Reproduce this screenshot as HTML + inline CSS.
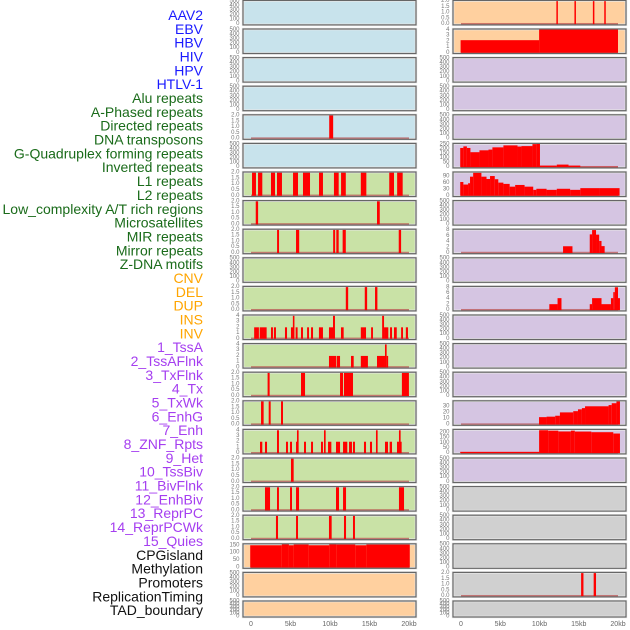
<!DOCTYPE html>
<html><head><meta charset="utf-8"><style>
html,body{margin:0;padding:0;background:#fff;width:630px;height:630px;overflow:hidden}
svg{display:block}
text{font-family:"Liberation Sans",sans-serif}
</style></head><body>
<svg id="chart" width="630" height="630"></svg>
<script>
const labels=["AAV2","EBV","HBV","HIV","HPV","HTLV-1","Alu repeats","A-Phased repeats","Directed repeats","DNA transposons","G-Quadruplex forming repeats","Inverted repeats","L1 repeats","L2 repeats","Low_complexity A/T rich regions","Microsatellites","MIR repeats","Mirror repeats","Z-DNA motifs","CNV","DEL","DUP","INS","INV","1_TssA","2_TssAFlnk","3_TxFlnk","4_Tx","5_TxWk","6_EnhG","7_Enh","8_ZNF_Rpts","9_Het","10_TssBiv","11_BivFlnk","12_EnhBiv","13_ReprPC","14_ReprPCWk","15_Quies","CPGisland","Methylation","Promoters","ReplicationTiming","TAD_boundary"];
const labelColors=["#1a1aff","#1a1aff","#1a1aff","#1a1aff","#1a1aff","#1a1aff","g","g","g","g","g","g","g","g","g","g","g","g","g","o","o","o","o","o","p","p","p","p","p","p","p","p","p","p","p","p","p","p","p","k","k","k","k","k"];
const leftBg=["b","b","b","b","b","b","g","g","g","g","g","g","g","g","g","g","g","g","g","o","o","o"];
const rightBg=["o","o","p","p","p","p","p","p","p","p","p","p","p","p","p","p","p","x","x","x","x","x"];
const leftTicks=[null,null,null,null,"T2",null,"T2","T2","T2",null,"T2","T4","T4","T2","T2","T4","T2","T2","T2","T150",null,null];
const rightTicks=["T2","T4",null,null,null,"T250","T90",null,"T8",null,"T8",null,null,null,"T30","T200",null,null,null,null,"T2",null];
// bars: [startKb, endKb, value]
const leftBars={
4:[[9.9,10.4,2]],
6:[[0.13,0.63,2],[0.89,1.43,2],[2.53,3.04,2],[3.29,3.92,2],[5.32,5.95,2],[6.58,7.47,2],[8.61,9.11,2],[10.5,11.1,2],[11.4,12.0,2],[13.9,14.6,2],[17.5,18.1,2],[18.5,19.2,2]],
7:[[0.6,0.9,2],[15.95,16.3,2]],
8:[[3.3,3.55,2],[5.7,6.1,2],[10.4,10.65,2],[10.8,11.1,2],[11.6,12.0,2],[18.7,19.0,2]],
10:[[12.0,12.3,2],[14.4,14.7,2],[15.7,16.0,2]],
11:[[0.4,1.0,2],[1.1,1.98,2],[2.53,2.78,2],[2.9,3.16,2],[4.3,4.56,2],[5.06,5.4,2],[5.3,5.5,4],[5.65,5.9,2],[6.33,6.58,2],[7.1,7.34,2],[7.6,7.85,2],[8.6,9.11,2],[9.87,10.38,2],[10.38,10.63,4],[11.39,11.73,2],[13.9,14.56,2],[15.2,15.44,2],[16.6,16.84,4],[16.84,17.38,2],[17.6,17.85,2],[18.1,18.45,2],[19.0,19.24,2],[19.6,19.87,2]],
12:[[9.87,10.76,2],[10.84,11.27,2],[12.66,13.0,2],[13.9,14.8,2],[15.95,16.96,2],[16.96,17.17,4],[17.17,17.34,2]],
13:[[2.1,2.36,2],[6.33,6.84,2],[11.27,11.65,2],[11.77,12.91,2],[19.1,19.99,2]],
14:[[1.27,1.6,2],[2.24,2.49,2],[3.8,4.05,2]],
15:[[1.14,1.43,2],[1.77,2.03,2],[3.29,3.54,4],[4.43,4.68,2],[4.94,5.19,2],[5.7,5.9,2],[5.82,6.03,4],[6.71,6.96,2],[7.6,7.85,2],[8.86,9.11,2],[9.24,9.45,4],[9.75,10.17,2],[10.76,11.27,2],[11.65,12.19,2],[12.41,12.78,2],[12.91,13.16,2],[14.3,14.56,2],[15.06,15.32,2],[15.82,16.03,4],[16.96,17.34,2],[17.55,17.85,2],[18.48,19.07,2],[18.73,18.94,4]],
16:[[5.06,5.4,2]],
17:[[1.77,2.41,2],[3.29,3.54,2],[4.94,5.19,2],[5.7,6.08,2],[10.76,11.14,2],[11.65,12.03,2],[18.73,19.37,2]],
18:[[3.16,3.42,2],[5.7,5.95,2],[9.87,10.21,2],[11.77,12.03,2],[12.91,13.16,2]],
19:[[-0.1,3.9,150],[3.9,4.8,157],[4.8,5.4,150],[5.4,7.3,155],[7.3,9.9,150],[9.9,10.8,157],[10.8,13.2,155],[13.2,14.6,150],[14.6,20.1,155]]
};
const rightBars={
0:[[12.15,12.3,2],[14.45,14.6,2],[16.8,16.95,2],[18.25,18.4,2]],
1:[[-0.05,9.95,2.2],[9.95,20.0,4.15]],
5:[[-0.1,0.3,214],[0.3,0.75,232],[0.75,1.2,214],[1.2,2.35,167],[2.35,3.5,188],[3.5,4.0,196],[4.0,5.4,221],[5.4,7.2,243],[7.2,7.7,230],[7.7,9.1,235],[9.1,9.6,257],[9.6,10.06,260],[10.06,12.2,18],[12.2,13.7,29],[13.7,15.2,18],[15.2,20.0,4]],
6:[[-0.1,0.3,65],[0.3,0.9,53],[0.9,1.15,59],[1.15,1.55,90],[1.55,2.6,108],[2.6,3.25,90],[3.25,3.7,79],[3.7,4.3,93],[4.3,4.75,78],[4.75,5.4,62],[5.4,6.2,56],[6.2,6.9,43],[6.9,8.1,51],[8.1,9.2,43],[9.2,9.6,28],[9.6,10.9,33],[10.9,12.2,28],[12.2,13.9,33],[13.9,15.2,28],[15.2,17.7,36],[17.7,20.2,36]],
8:[[13.0,14.2,2.35],[16.4,16.7,6.5],[16.7,17.2,8],[17.2,17.6,6.4],[17.6,17.9,4.2],[17.9,18.3,2.4]],
10:[[11.25,12.3,2.1],[12.3,12.8,4.2],[16.4,16.7,2.1],[16.7,17.9,4.2],[17.9,19.1,2.1],[19.1,19.4,4.2],[19.4,19.6,6.3],[19.6,20.0,8],[20.0,20.25,4.2]],
14:[[9.94,10.9,12.2],[10.9,12.0,13],[12.0,12.6,14.5],[12.6,14.3,20],[14.3,14.9,22],[14.9,15.4,25],[15.4,15.8,27],[15.8,18.8,30],[18.8,19.2,32],[19.2,19.8,35],[19.8,20.25,38]],
15:[[-0.1,9.95,13],[9.95,11.1,222],[11.1,12.4,218],[12.4,14.0,210],[14.0,14.5,218],[14.5,16.6,209],[16.6,19.4,203],[19.4,20.25,190]],
20:[[15.3,15.6,2],[16.9,17.2,2]]
};
const tickSets={
T2:{v:[0,0.5,1,1.5,2],l:["0.0","0.5","1.0","1.5","2.0"],hi:2.06},
T4:{v:[0,1,2,3,4],l:["0","1","2","3","4"],hi:4.15},
T8:{v:[0,2,4,6,8],l:["0","2","4","6","8"],hi:8.3},
T30:{v:[0,10,20,30],l:["0","10","20","30"],hi:39},
T90:{v:[0,30,60,90],l:["0","30","60","90"],hi:112},
T150:{v:[0,50,100,150],l:["0","50","100","150"],hi:160},
T200:{v:[0,50,100,150,200],l:["0","50","100","150","200"],hi:230},
T250:{v:[0,50,100,150,200,250],l:["0","50","100","150","200","250"],hi:265},
E:{v:[0,100,200,300,400,500],l:["0","100","200","300","400","500"],hi:520}
};
const xTicks=[0,5,10,15,20];
const xTickLabels=["0","5kb","10kb","15kb","20kb"];

const NS="http://www.w3.org/2000/svg";
const svg=document.getElementById("chart");
function mk(t,a,p){const e=document.createElementNS(NS,t);for(const k in a)e.setAttribute(k,a[k]);(p||svg).appendChild(e);return e;}
const colMap={g:"#1a6b1a",o:"#ffa500",p:"#a53ef0",k:"#111"};
const bgMap={b:"#c8e3ec",g:"#c9e2a6",o:"#ffd09f",p:"#d5c5e2",x:"#d0d0d0"};
function xL(k){return 251+k*7.9;}
function xR(k){return 461+k*7.85;}

labels.forEach((s,i)=>{
  const c=labelColors[i];
  const t=mk("text",{x:203,y:15+i*13.84,"text-anchor":"end","dominant-baseline":"central","font-size":"14",fill:colMap[c]||c});
  t.textContent=s;
  
  
});

function panel(i,side){
  const top=0.4+i*28.6, h=(i===21)?16:24.5, bottom=top+h;
  const x0=side==="L"?243:453, w=173;
  const xs=side==="L"?xL:xR;
  const bgKey=side==="L"?leftBg[i]:rightBg[i];
  const tk=tickSets[(side==="L"?leftTicks[i]:rightTicks[i])||"E"];
  const bars=(side==="L"?leftBars:rightBars)[i];
  const g=mk("g",{});
  
  
  const bg=mk("rect",{x:x0,y:top,width:w,height:h,fill:bgMap[bgKey],stroke:"#e8e8e8","stroke-width":2.5},g);
  
  
  const lo=-tk.hi*0.03, hi=tk.hi;
  const y=v=>bottom-(v-lo)/(hi-lo)*h;
  const ty=mk("g",{},g);
  
  
  tk.v.forEach((v,j)=>{
    const t=mk("text",{x:x0-3.5,y:y(v),"text-anchor":"end","dominant-baseline":"central","font-size":"6",fill:"#777"},ty);
    t.textContent=tk.l[j];
  });
  if(bars){
    const bl=mk("rect",{x:xs(0),y:y(0)-1.2,width:xs(20)-xs(0),height:2,fill:"#b03030",opacity:0.6},g);
    
    
    bars.forEach(b=>{
      const x1=xs(b[0]),x2=xs(b[1]);
      const r=mk("rect",{x:x1,y:y(b[2]),width:Math.max(1.5,x2-x1),height:y(0)-y(b[2]),fill:"#ff0000"},g);
      
      
    });
  }
  const fr=mk("rect",{x:x0,y:top,width:w,height:h,fill:"none",stroke:"#666","stroke-width":1.2},g);
  
  
}
for(let i=0;i<22;i++){panel(i,"L");panel(i,"R");}
["L","R"].forEach(side=>{
  const xs=side==="L"?xL:xR;
  const ax=mk("g",{});
  
  
  xTicks.forEach((k,j)=>{
    const t=mk("text",{x:xs(k),y:626,"text-anchor":"middle","font-size":"7",fill:"#666"},ax);
    t.textContent=xTickLabels[j];
  });
});
</script>
</body></html>
